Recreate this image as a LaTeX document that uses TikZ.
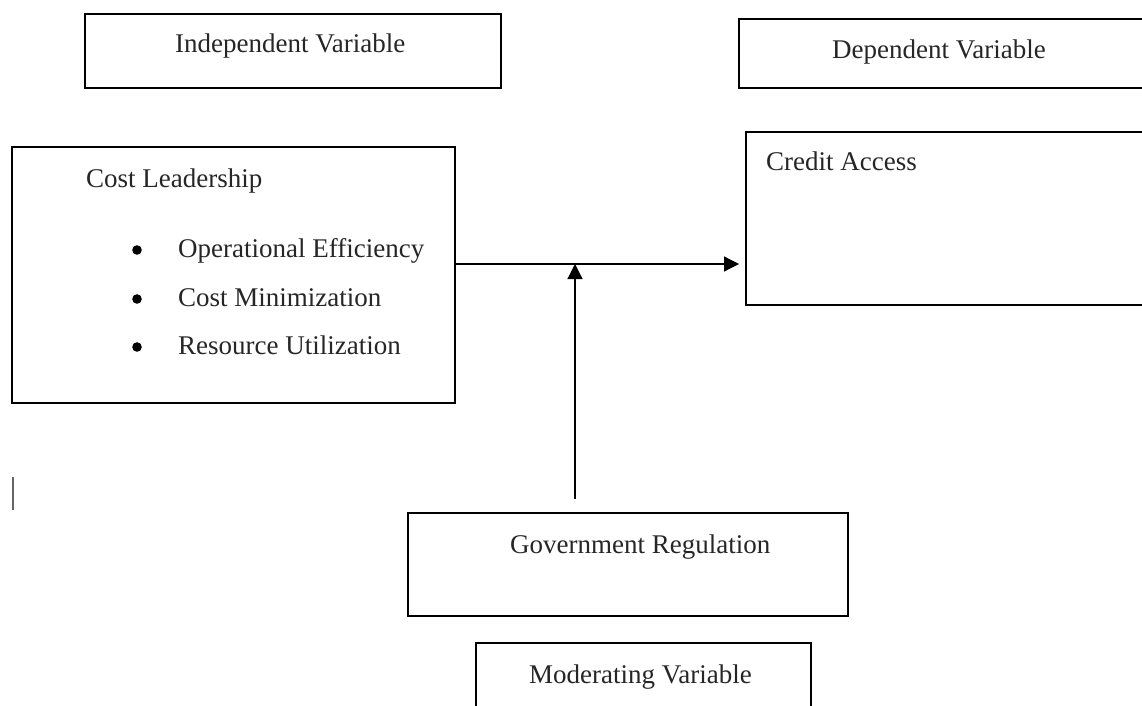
\documentclass[tikz,border=0pt]{standalone}
\usepackage{fontspec}
\setmainfont{Liberation Serif}
\usetikzlibrary{arrows.meta,calc}
\begin{document}
\begin{tikzpicture}[x=1pt,y=-1pt,
  box/.style={draw=black,line width=2pt,inner sep=0pt},
  lbl/.style={anchor=base west,inner sep=0pt,font=\fontsize{27}{32}\selectfont,text=black!85},
  conn/.style={line width=1.2pt,-{Triangle[length=15pt,width=15pt]}}]
\useasboundingbox (0,0) rectangle (1142,706);
\clip (0,0) rectangle (1142,706);
% boxes
\node[box,minimum width=416pt,minimum height=74pt] (indep) at (293,51) {};
\node[box,minimum width=420pt,minimum height=69pt] (dep) at (949,53.5) {};
\node[box,minimum width=443pt,minimum height=256pt] (cost) at (233.5,275) {};
\node[box,minimum width=420pt,minimum height=173pt] (credit) at (956,218.5) {};
\node[box,minimum width=440pt,minimum height=103pt] (gov) at (628,564.5) {};
\node[box,minimum width=335pt,minimum height=90pt] (mod) at (643.5,688) {};
% texts
\node[lbl] (tindep) at (175,53) {Independent Variable};
\node[lbl] (tdep) at (832,59) {Dependent Variable};
\node[lbl] (tcost) at (86,187) {Cost Leadership};
\node[lbl] (t1) at (178,257) {Operational Efficiency};
\node[lbl] (t2) at (178,306) {Cost Minimization};
\node[lbl] (t3) at (178,354) {Resource Utilization};
\fill (137,250) circle (4.8pt);
\fill (137,299) circle (4.8pt);
\fill (137,347) circle (4.8pt);
\node[lbl] (tcredit) at (766,170) {Credit Access};
\node[lbl] (tgov) at (510,553) {Government Regulation};
\node[lbl] (tmod) at (529,683) {Moderating Variable};
% connectors
\coordinate (s1) at ($(cost.east |- 0,264)+(-2,0)$);
\coordinate (e1) at ($(credit.west |- 0,264)+(-6,0)$);
\draw[conn] (s1) -- (e1);
\coordinate (s2) at ($(gov.north -| 575,0)+(0,-13)$);
\coordinate (e2) at (575,264);
\draw[conn] (s2) -- (e2);
% cursor mark
\draw[black!60,line width=1.3pt] (13,477) -- (13,510);
\end{tikzpicture}
\end{document}
